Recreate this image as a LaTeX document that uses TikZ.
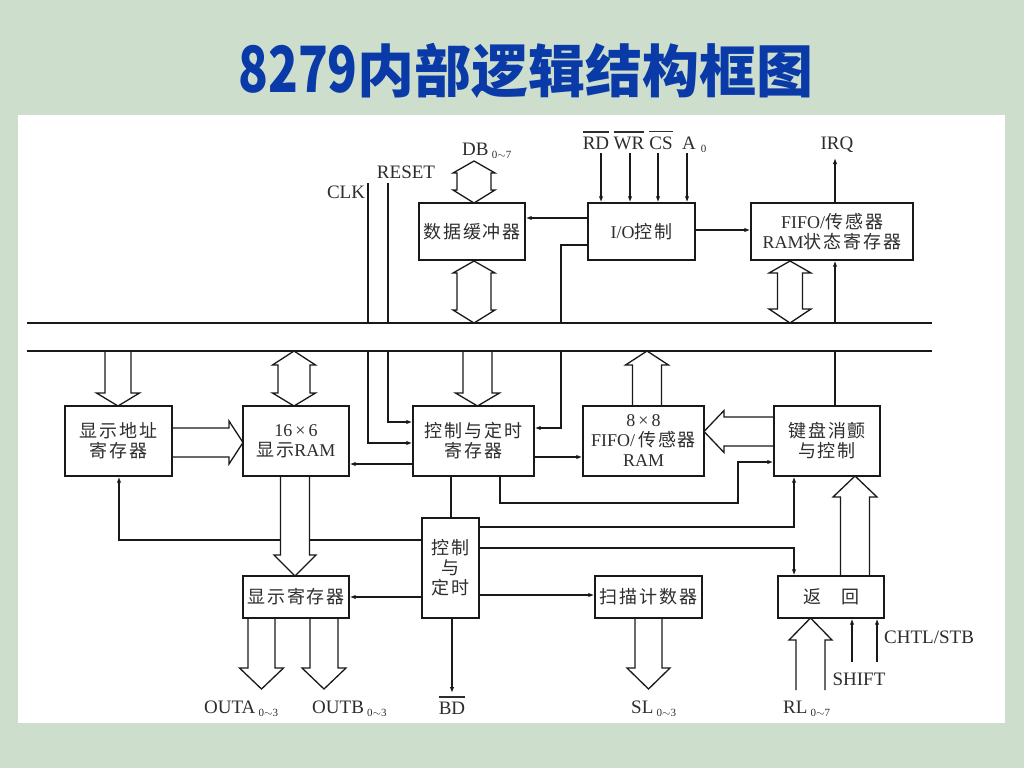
\documentclass[tikz,border=0pt]{standalone}
\usepackage{graphicx}
\usepackage{fontspec}
\setmainfont{Liberation Serif}
\newfontfamily\cjk[LetterSpace=11]{Noto Sans CJK SC}
\newfontfamily\cjkt{Noto Sans CJK SC}
\usetikzlibrary{arrows.meta}
\definecolor{bgc}{RGB}{205,222,205}
\definecolor{titlec}{RGB}{10,58,168}
\definecolor{lc}{RGB}{25,25,25}
\definecolor{tc}{RGB}{45,45,45}
\pgfdeclarelayer{bgzero}
\pgfdeclarelayer{bgone}
\pgfsetlayers{bgzero,bgone,main}
\newcommand\zhtxt[1]{{\cjk #1}}
\newcommand\subl[1]{\,\raisebox{-3.5pt}{\fontsize{11}{11}\selectfont #1}}
\newcommand\ovl[1]{\vbox{\hrule height 1.1pt\kern 4pt\hbox{#1}}}
% vertical hollow arrow: cx, ybase, yheadbase, ytip, shaft half, head half
\newcommand\varw[6]{%
  \fill[white] ({#1-#5},#2) -- ({#1-#5},#3) -- ({#1-#6},#3) -- (#1,#4) -- ({#1+#6},#3) -- ({#1+#5},#3) -- ({#1+#5},#2) -- cycle;
  \draw[hol] ({#1-#5},#2) -- ({#1-#5},#3) -- ({#1-#6},#3) -- (#1,#4) -- ({#1+#6},#3) -- ({#1+#5},#3) -- ({#1+#5},#2);}
% horizontal hollow arrow: cy, xbase, xheadbase, xtip, shaft half, head half
\newcommand\harw[6]{%
  \fill[white] (#2,{#1-#5}) -- (#3,{#1-#5}) -- (#3,{#1-#6}) -- (#4,#1) -- (#3,{#1+#6}) -- (#3,{#1+#5}) -- (#2,{#1+#5}) -- cycle;
  \draw[hol] (#2,{#1-#5}) -- (#3,{#1-#5}) -- (#3,{#1-#6}) -- (#4,#1) -- (#3,{#1+#6}) -- (#3,{#1+#5}) -- (#2,{#1+#5});}
% vertical double hollow arrow: cx, ytip1, yb1, yb2, ytip2, shaft half, head half
\newcommand\dvarw[7]{%
  \filldraw[hol, fill=white] (#1,#2) -- ({#1+#7},#3) -- ({#1+#6},#3) -- ({#1+#6},#4) -- ({#1+#7},#4) -- (#1,#5) -- ({#1-#7},#4) -- ({#1-#6},#4) -- ({#1-#6},#3) -- ({#1-#7},#3) -- cycle;}
\begin{document}
\begin{tikzpicture}[x=1pt,y=-1pt,
  box/.style={draw=lc, line width=1.4pt, fill=white, inner sep=0pt, align=center, text=tc, font=\fontsize{18}{20}\selectfont},
  ln/.style={draw=lc, line width=1.3pt},
  arr/.style={ln, -{Latex[length=6pt,width=4.5pt]}},
  hol/.style={draw=lc, line width=1.3pt, line join=miter},
  lab/.style={text=tc, font=\fontsize{19}{20}\selectfont, inner sep=0pt},
  bus/.style={draw=lc, line width=1.4pt}]
\begin{pgfonlayer}{bgzero}
  \fill[bgc] (0,0) rectangle (1024,768);
  \fill[white] (18,115) rectangle (1005,723);
\end{pgfonlayer}
% title
\node[anchor=base, text=titlec, inner sep=0pt] (title) at (526,92)
  {\cjkt\bfseries\fontsize{57}{57}\selectfont\scalebox{0.86}[1.12]{8279}内部逻辑结构框图};
% boxes
\node[box, minimum width=106, minimum height=57] (buf) at (472,231.5) {\zhtxt{数据缓冲器}};
\node[box, minimum width=107, minimum height=57] (io) at (641.5,231.5) {I/O\zhtxt{控制}};
\node[box, minimum width=162, minimum height=57] (fst) at (832,231.5) {FIFO/\zhtxt{传感器}\\RAM\zhtxt{状态寄存器}};
\node[box, minimum width=107, minimum height=70] (dar) at (118.5,441) {\zhtxt{显示地址}\\\zhtxt{寄存器}};
\node[box, minimum width=106, minimum height=70] (ram) at (296,441) {16\,×\,6\\\zhtxt{显示}RAM};
\node[box, minimum width=121, minimum height=70] (ctr) at (473.5,441) {\zhtxt{控制与定时}\\\zhtxt{寄存器}};
\node[box, minimum width=121, minimum height=70] (fifo) at (643.5,441) {8\,×\,8\\FIFO/\,\zhtxt{传感器}\\RAM};
\node[box, minimum width=106, minimum height=70] (kbd) at (827,441) {\zhtxt{键盘消颤}\\\zhtxt{与控制}};
\node[box, minimum width=57, minimum height=100] (ct) at (450.5,568) {\zhtxt{控制}\\\zhtxt{与}\\\zhtxt{定时}};
\node[box, minimum width=106, minimum height=42] (dreg) at (296,597) {\zhtxt{显示寄存器}};
\node[box, minimum width=107, minimum height=42] (scan) at (648.5,597) {\zhtxt{扫描计数器}};
\node[box, minimum width=106, minimum height=42] (ret) at (831,597) {\zhtxt{返\hspace{20pt}回}};
% labels
\node[lab, anchor=base] (clk) at (346,198) {CLK};
\node[lab, anchor=base] (rst) at (406,178) {RESET};
\node[lab, anchor=base west] (db) at (462,155) {DB\subl{0$\sim$7}};
\node[lab, anchor=base] (rd) at (596,149) {\ovl{RD}};
\node[lab, anchor=base] (wr) at (629,149) {\ovl{WR}};
\node[lab, anchor=base] (cs) at (661,149) {\ovl{CS}};
\node[lab, anchor=base west] (a0) at (682,149) {A\subl{\,0}};
\node[lab, anchor=base] (irq) at (837,149) {IRQ};
\node[lab, anchor=base west] (outa) at (204,713) {OUTA\subl{0$\sim$3}};
\node[lab, anchor=base west] (outb) at (312,713) {OUTB\subl{0$\sim$3}};
\node[lab, anchor=base] (bd) at (452,714) {\ovl{BD}};
\node[lab, anchor=base west] (sl) at (631,713) {SL\subl{0$\sim$3}};
\node[lab, anchor=base west] (rl) at (783,713) {RL\subl{0$\sim$7}};
\node[lab, anchor=base] (shift) at (859,685) {SHIFT};
\node[lab, anchor=base west] (chtl) at (884,643) {CHTL/STB};
\begin{pgfonlayer}{bgone}
  % connectors
  \draw[ln] (368,183) -- (368,323);
  \draw[arr] (368,351) |- (ctr.west |- 0,443);
  \draw[ln] (388,183) -- (388,323);
  \draw[arr] (388,351) |- (ctr.west |- 0,422);
  \draw[arr] (io.west |- 0,218) -- (buf.east |- 0,218);
  \draw[ln] (io.west |- 0,245) -| (561,323);
  \draw[arr] (561,351) |- (ctr.east |- 0,428);
  \draw[arr] (601,153) -- (io.north -| 601,0);
  \draw[arr] (630,153) -- (io.north -| 630,0);
  \draw[arr] (658,153) -- (io.north -| 658,0);
  \draw[arr] (687,153) -- (io.north -| 687,0);
  \draw[arr] (io.east |- 0,230) -- (fst.west |- 0,230);
  \draw[arr] (fst.north -| 835,0) -- (835,158);
  \draw[arr] (835,323) -- (fst.south -| 835,0);
  \draw[ln] (kbd.north -| 835,0) -- (835,351);
  \draw[arr] (ctr.west |- 0,464) -- (ram.east |- 0,464);
  \draw[arr] (ctr.east |- 0,457) -- (fifo.west |- 0,457);
  \draw[arr] (ctr.south -| 500,0) -- (500,503) -- (738,503) -- (738,462) -- (kbd.west |- 0,462);
  \draw[ln] (ctr.south -| 451,0) -- (ct.north -| 451,0);
  \draw[arr] (ct.east |- 0,527) -| (kbd.south -| 794,0);
  \draw[arr] (ct.east |- 0,548) -| (ret.north -| 794,0);
  \draw[arr] (ct.east |- 0,595) -- (scan.west |- 0,595);
  \draw[arr] (ct.west |- 0,540) -| (dar.south -| 119,0);
  \draw[arr] (ct.west |- 0,597) -- (dreg.east |- 0,597);
  \draw[arr] (ct.south -| 452,0) -- (452,693);
  \draw[arr] (852,662) -- (ret.south -| 852,0);
  \draw[arr] (877,662) -- (ret.south -| 877,0);
  % hollow (bus) arrows
  \dvarw{474}{161}{173}{190}{203}{17}{21}
  \dvarw{474}{261}{273}{310}{323}{17}{21}
  \dvarw{790}{261}{273}{309}{323}{12.5}{21}
  \varw{118}{351}{393}{406}{13}{21.5}
  \dvarw{294}{351}{365}{393}{406}{16}{21.5}
  \varw{477.5}{351}{393}{406}{14.5}{22}
  \varw{647}{406}{365}{351}{14.5}{21.5}
  \harw{442.5}{172}{229}{243}{14.5}{21.5}
  \harw{431.5}{774}{724}{704}{14.5}{21}
  \varw{295}{476}{555}{576}{14.5}{21}
  \varw{261.5}{618}{668}{689}{13.5}{22}
  \varw{324}{618}{668}{689}{14}{22}
  \varw{648.5}{618}{668}{689}{13.5}{21.5}
  \varw{855}{576}{497}{476}{14.5}{22}
  \varw{810.5}{690}{640}{618}{14.5}{21.5}
  % internal bus
  \coordinate (busAl) at (27,323);
  \coordinate (busAr) at (932,323);
  \coordinate (busBl) at (27,351);
  \coordinate (busBr) at (932,351);
  \draw[bus] (busAl) -- (busAr);
  \draw[bus] (busBl) -- (busBr);
\end{pgfonlayer}
\end{tikzpicture}
\end{document}
